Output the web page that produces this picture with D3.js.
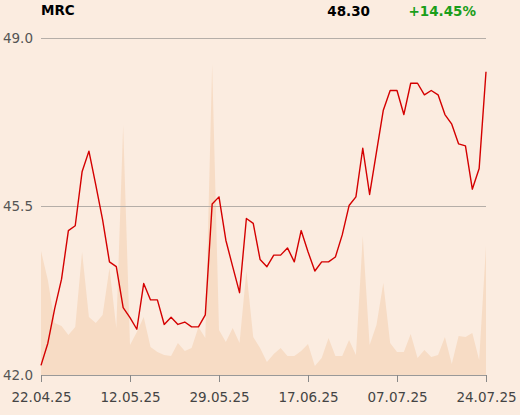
<!DOCTYPE html>
<html>
<head>
<meta charset="utf-8">
<script src="https://cdn.jsdelivr.net/npm/d3@7"></script>
<style>
  html, body { margin: 0; padding: 0; background: #fbece0; }
  svg { display: block; }
</style>
</head>
<body>
<svg id="chart" width="520" height="415"></svg>
<script>
const symbol = "MRC";
const lastPrice = "48.30";
const changePct = "+14.45%";

const dates = ["22.04.25","23.04.25","24.04.25","25.04.25","28.04.25","29.04.25","30.04.25","02.05.25","05.05.25","06.05.25","07.05.25","08.05.25","09.05.25",
  "12.05.25","13.05.25","14.05.25","15.05.25","16.05.25","19.05.25","20.05.25","21.05.25","22.05.25","23.05.25","26.05.25","27.05.25","28.05.25",
  "29.05.25","30.05.25","02.06.25","03.06.25","04.06.25","05.06.25","06.06.25","09.06.25","10.06.25","11.06.25","12.06.25","13.06.25","16.06.25",
  "17.06.25","18.06.25","20.06.25","23.06.25","24.06.25","25.06.25","26.06.25","27.06.25","30.06.25","01.07.25","02.07.25","03.07.25","04.07.25",
  "07.07.25","08.07.25","09.07.25","10.07.25","11.07.25","14.07.25","15.07.25","16.07.25","17.07.25","18.07.25","21.07.25","22.07.25","23.07.25","24.07.25"];

const prices = [42.20,42.66,43.38,43.99,45.00,45.10,46.22,46.65,45.95,45.22,44.35,44.25,43.40,
  43.19,42.95,43.90,43.56,43.56,43.05,43.20,43.05,43.10,43.00,43.00,43.25,45.55,
  45.70,44.80,44.25,43.71,45.25,45.15,44.40,44.25,44.49,44.49,44.64,44.35,45.00,
  44.56,44.16,44.35,44.35,44.45,44.91,45.52,45.70,46.71,45.75,46.63,47.50,47.91,
  47.91,47.41,48.06,48.06,47.82,47.91,47.82,47.41,47.21,46.80,46.76,45.86,46.29,48.30];

const volumes = [124,95,52,49,40,48,123,58,52,60,107,47,250,
  30,43,58,28,23,20,19,32,24,27,48,37,311,
  45,33,47,32,104,38,27,13,21,27,19,19,24,
  31,9,17,37,19,19,35,20,139,30,50,92,32,
  23,23,41,17,25,18,20,38,11,39,38,42,15,129];

const yTicks = [42.0, 45.5, 49.0];
const xTickLabels = ["22.04.25","12.05.25","29.05.25","17.06.25","07.07.25","24.07.25"];

const svg = d3.select("#chart");
const mLeft = 41, mRight = 486, mTop = 38, mBottom = 375;

const x = d3.scaleLinear().domain([0, dates.length - 1]).range([mLeft, mRight]);
const y = d3.scaleLinear().domain([42, 49]).range([mBottom, mTop]);
const yVol = d3.scaleLinear().domain([0, 337]).range([mBottom, mTop]);

// volume area
svg.append("path")
  .datum(volumes)
  .attr("fill", "#f7dcc5")
  .attr("d", d3.area().x((d, i) => x(i)).y0(mBottom).y1(d => yVol(d)));

// gridlines
svg.append("g").selectAll("line")
  .data(yTicks.filter(t => t !== 42))
  .join("line")
  .attr("x1", mLeft).attr("x2", mRight)
  .attr("y1", d => y(d)).attr("y2", d => y(d))
  .attr("stroke", "#b5aea8").attr("stroke-width", 1)
  .attr("shape-rendering", "crispEdges");

// y labels
svg.append("g").selectAll("text")
  .data(yTicks)
  .join("text")
  .attr("x", 33).attr("y", d => y(d))
  .attr("dy", "0.35em")
  .attr("text-anchor", "end")
  .attr("font-family", "DejaVu Sans, sans-serif")
  .attr("font-size", 13.5)
  .attr("fill", "#555")
  .text(d => d.toFixed(1));

// x axis
const tickIdx = xTickLabels.map(l => dates.indexOf(l));
const xAxis = d3.axisBottom(x)
  .tickValues(tickIdx)
  .tickFormat(i => dates[i])
  .tickSize(7)
  .tickPadding(10)
  .tickSizeOuter(0);
const gx = svg.append("g").attr("transform", `translate(0,${mBottom})`).call(xAxis);
gx.select(".domain").attr("stroke", "#999");
gx.selectAll(".tick line").attr("stroke", "#888");
gx.selectAll(".tick text")
  .attr("font-family", "DejaVu Sans, sans-serif")
  .attr("font-size", 13.5)
  .attr("fill", "#444");

// price line
svg.append("path")
  .datum(prices)
  .attr("fill", "none")
  .attr("stroke", "#d40000")
  .attr("stroke-width", 1.4)
  .attr("stroke-linejoin", "round")
  .attr("d", d3.line().x((d, i) => x(i)).y(d => y(d)));

// header
svg.append("text").attr("x", 41).attr("y", 15)
  .attr("font-family", "DejaVu Sans, sans-serif").attr("font-weight", "bold")
  .attr("font-size", 13.5).attr("fill", "#000").text(symbol);
svg.append("text").attr("x", 370).attr("y", 16).attr("text-anchor", "end")
  .attr("font-family", "DejaVu Sans, sans-serif").attr("font-weight", "bold")
  .attr("font-size", 13.5).attr("fill", "#000").text(lastPrice);
svg.append("text").attr("x", 476).attr("y", 16).attr("text-anchor", "end")
  .attr("font-family", "DejaVu Sans, sans-serif").attr("font-weight", "bold")
  .attr("font-size", 13.5).attr("fill", "#1a9e1a").text(changePct);
</script>
</body>
</html>
